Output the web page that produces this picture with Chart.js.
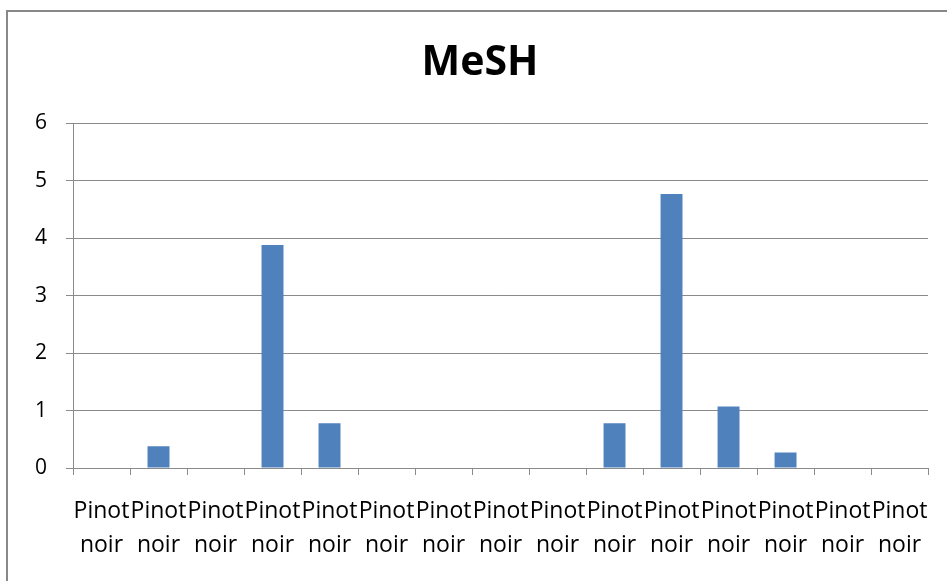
<!DOCTYPE html>
<html>
<head>
<meta charset="utf-8">
<script src="https://cdn.jsdelivr.net/npm/chart.js@4"></script>
<style>
  html, body { margin: 0; padding: 0; background: #fff; }
  #wrap { position: relative; width: 947px; height: 581px; overflow: hidden; }
  #frame { position: absolute; left: 6px; top: 10px; width: 1000px; height: 700px;
           border: 2px solid #888888; pointer-events: none; box-sizing: border-box; }
  canvas { position: absolute; left: 0; top: 0; }
</style>
</head>
<body>
<div id="wrap">
  <canvas id="c" width="947" height="581"></canvas>
  <div id="frame"></div>
</div>
<script>
const categories = [
  ['Pinot','noir'], ['Pinot','noir'], ['Pinot','noir'], ['Pinot','noir'], ['Pinot','noir'],
  ['Pinot','noir'], ['Pinot','noir'], ['Pinot','noir'], ['Pinot','noir'], ['Pinot','noir'],
  ['Pinot','noir'], ['Pinot','noir'], ['Pinot','noir'], ['Pinot','noir'], ['Pinot','noir']
];
const meshValues = [0, 0.38, 0, 3.88, 0.78, 0, 0, 0, 0, 0.78, 4.77, 1.07, 0.27, 0, 0];
const yTicks = [0, 1, 2, 3, 4, 5, 6];
const chartTitle = 'MeSH';

const gridGray = '#8a8a8a';
new Chart(document.getElementById('c'), {
  type: 'bar',
  data: {
    labels: categories,
    datasets: [{
      label: chartTitle,
      data: meshValues,
      backgroundColor: '#4F81BD',
      borderWidth: 0,
      barPercentage: 0.385,
      categoryPercentage: 1.0
    }]
  },
  options: {
    responsive: false,
    animation: false,
    layout: { padding: { left: 30, right: 17, top: 0, bottom: 0 } },
    plugins: {
      legend: { display: false },
      tooltip: { enabled: false },
      title: {
        display: true,
        text: chartTitle,
        color: '#000',
        font: { family: 'Open Sans', size: 41, weight: 'bold', lineHeight: 1.2 },
        padding: { top: 39, bottom: 35 }
      }
    },
    scales: {
      x: {
        offset: true,
        grid: { offset: true, drawOnChartArea: false, drawTicks: true, tickLength: 7, color: gridGray, lineWidth: 1 },
        border: { display: true, color: gridGray, width: 1 },
        ticks: {
          color: '#000',
          font: { family: 'Open Sans', size: 23, lineHeight: 1.5 },
          maxRotation: 0, minRotation: 0, autoSkip: false, padding: 19
        },
        afterFit: (s) => { s.height = 113; }
      },
      y: {
        min: 0, max: 6,
        afterBuildTicks: (s) => { s.ticks = yTicks.map(v => ({ value: v })); },
        grid: { color: gridGray, lineWidth: 1, drawTicks: true, tickLength: 7 },
        border: { display: true, color: gridGray, width: 1 },
        ticks: {
          color: '#000',
          font: { family: 'Open Sans', size: 21 },
          padding: 19
        },
        afterFit: (s) => { s.width = 43; }
      }
    }
  }
});
</script>
</body>
</html>
